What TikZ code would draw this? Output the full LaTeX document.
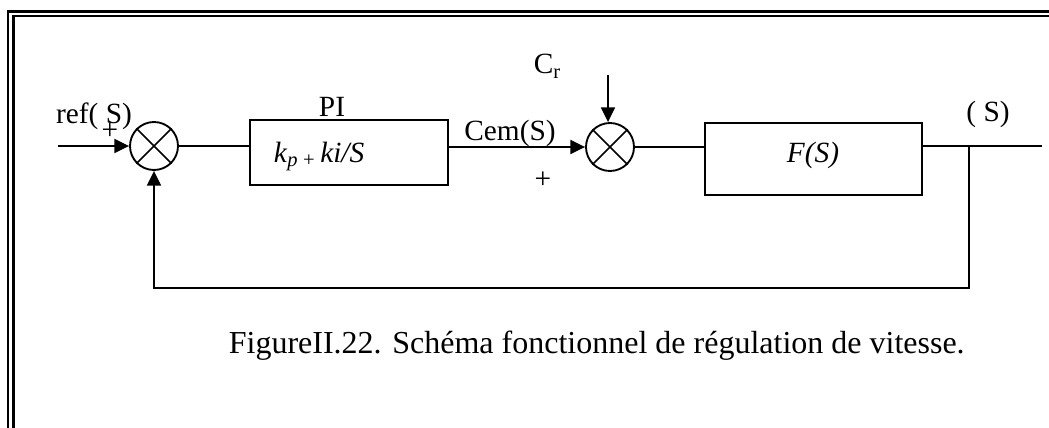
\documentclass[tikz,border=0pt]{standalone}
\usepackage{fontspec}
\setmainfont{Liberation Serif}
\usetikzlibrary{positioning, calc, arrows.meta}
\newcommand{\lblsize}{\fontsize{22}{26}\selectfont}

\begin{document}
\begin{tikzpicture}[x=0.75pt, y=-0.75pt, >={Triangle[length=11pt, width=10.5pt]}, line width=1.3pt,
  every node/.style={font=\lblsize, inner sep=0pt},
  block/.style={draw, rectangle, line width=1.4pt},
  sumnode/.style={draw, circle, minimum size=36pt, line width=1.4pt}]
\useasboundingbox (0,0) rectangle (1049,428);
% Frame
\draw[line width=2pt] (8,428) -- (8,11.3) -- (1049,11.3);
\draw[line width=1.8pt] (13.5,428) -- (13.5,16.2) -- (1049,16.2);

% Summing junctions
\node[sumnode] (s1) at (154,146) {};
\node[sumnode] (s2) at (610,147) {};
\foreach \s in {s1, s2} {
  \draw (\s.north west) -- (\s.south east);
  \draw (\s.north east) -- (\s.south west);
}

% Blocks
\node[block, minimum width=148.5pt, minimum height=48.75pt] (pi) at (349,152.5) {};
\node[block, minimum width=162.75pt, minimum height=54pt] (plant) at (813.5,159) {};

% Labels
\node[anchor=base] (ref) at (94,123) {ref( S)};
\node (plus1) at (110,131) {+};
\node[anchor=base] (pilbl) at (332,116) {PI};
\node[anchor=base west] (pitxt) at (273,162) {\textit{k}\textsubscript{\textit{p}}\,\textsubscript{+}\,\textit{ki/S}};
\node[anchor=base] (cem) at (510,140) {Cem(S)};
\node (plus2) at (543,180) {+};
\node[anchor=base west] (cr) at (533,74) {C\textsubscript{r}};
\node[anchor=base, font=\lblsize\itshape] (ftxt) at (813,162) {F(S)};
\node[anchor=base] (outlbl) at (988,122) {( S)};
\node[anchor=base west, font=\fontsize{24}{28}\selectfont] (caption) at (228,353) {FigureII.22. Schéma fonctionnel de régulation de vitesse.};

% Connections
\coordinate (in) at (58,146);
\coordinate (crtop) at (608,75);
\coordinate (out) at (1042,146);
\coordinate (br) at (969,146);
\coordinate (fb) at (969,288);
\draw[->] (in) -- (s1);
\draw (s1) -- (s1 -| pi.west);
\draw[->] (pi.east |- s2) -- (s2);
\draw[->] (crtop) -- (crtop |- s2.north);
\draw (s2) -- (s2 -| plant.west);
\draw (plant.east |- out) -- (out);
\draw[->] (br) -- (fb) -| (s1.south);
\end{tikzpicture}
\end{document}
